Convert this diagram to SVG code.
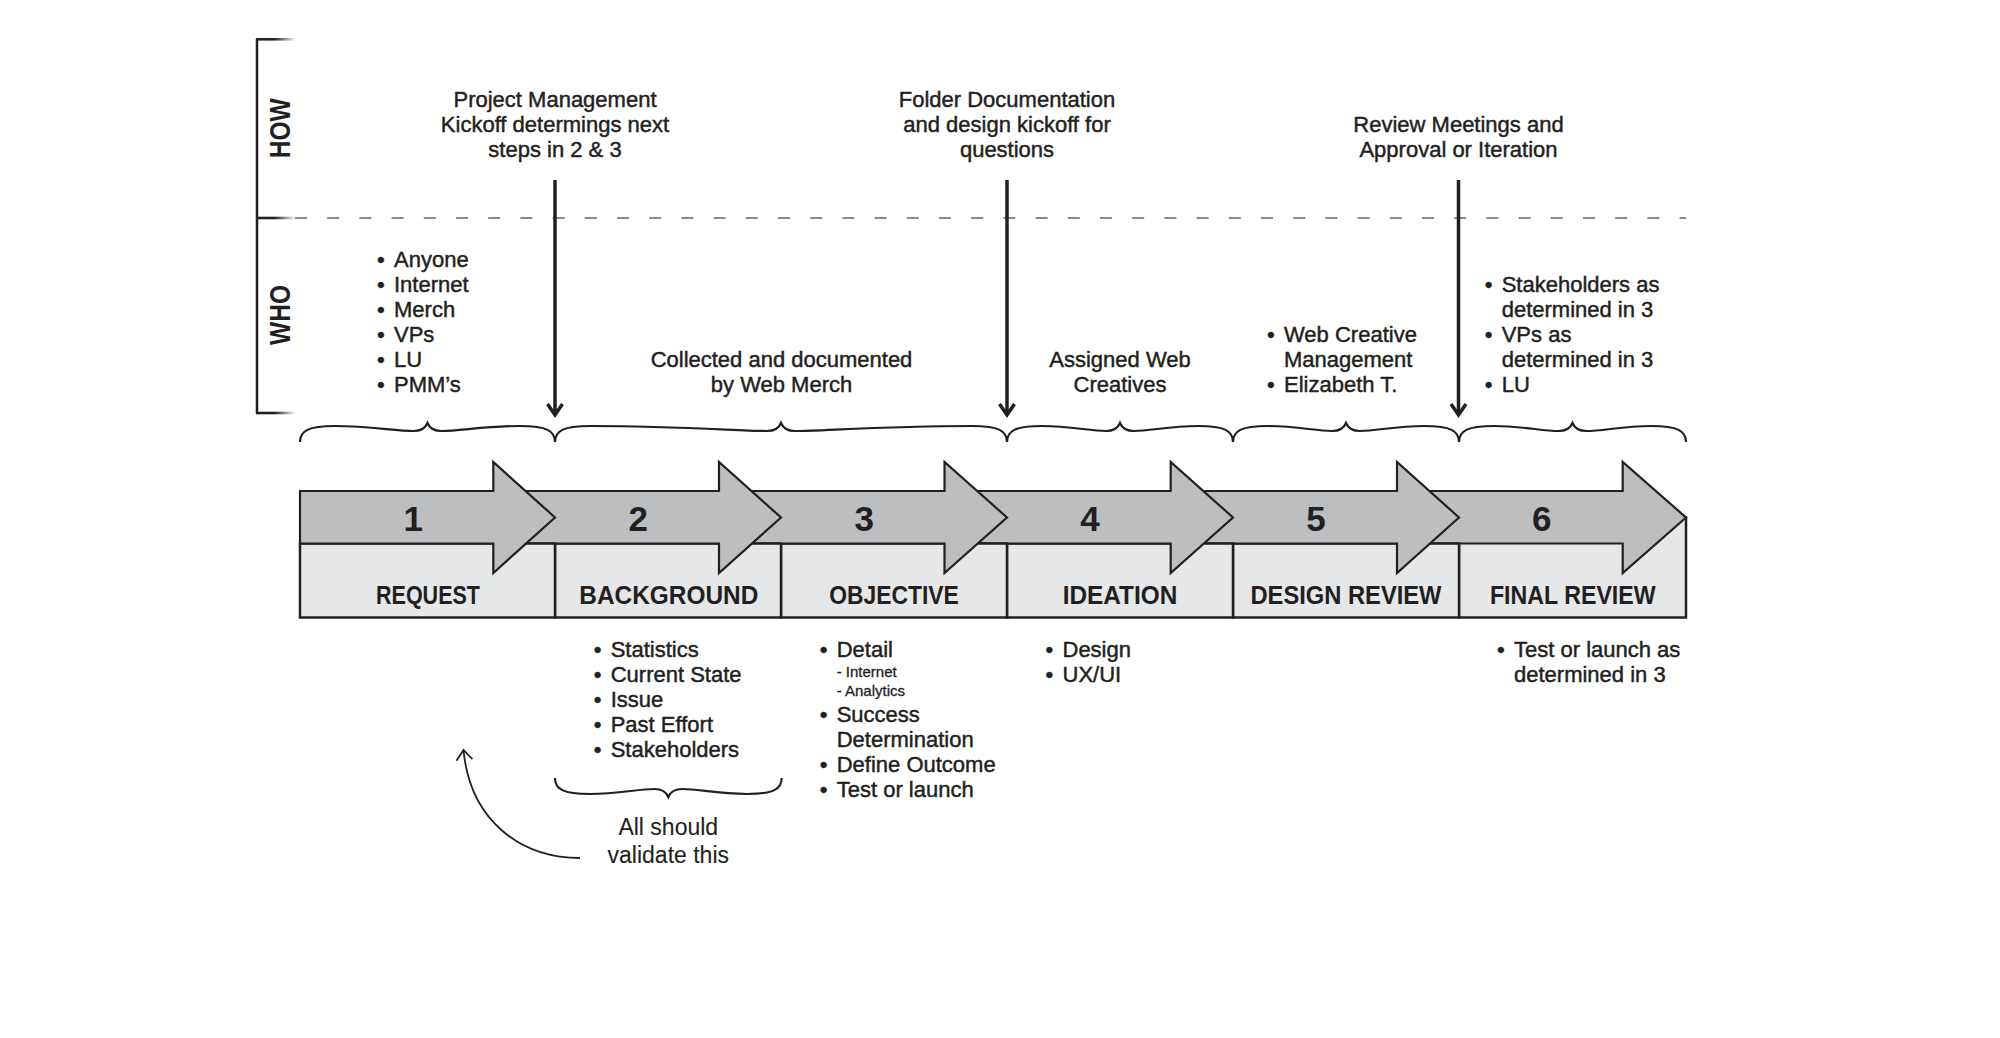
<svg xmlns="http://www.w3.org/2000/svg" width="2000" height="1038" viewBox="0 0 2000 1038">
<defs>
<style>
.t{font-family:"Liberation Sans",Arial,sans-serif;font-size:22px;fill:#231f20;stroke:#231f20;stroke-width:0.45}
.m{text-anchor:middle}
.s{font-size:15px;stroke-width:0.3}
.r{font-size:23px;stroke-width:0.1}
.h{font-family:"Liberation Sans",Arial,sans-serif;font-weight:bold;font-size:26px;text-anchor:middle;fill:#231f20}
.n{font-family:"Liberation Sans",Arial,sans-serif;font-weight:bold;font-size:35px;text-anchor:middle;fill:#231f20}
.v{font-family:"Liberation Sans",Arial,sans-serif;font-weight:bold;font-size:30px;text-anchor:middle;fill:#231f20}
.cell{fill:#e6e7e8;stroke:#231f20;stroke-width:2.5}
.chev{fill:#bcbec0;stroke:#231f20;stroke-width:2.2;stroke-linejoin:miter}
.brace{fill:none;stroke:#231f20;stroke-width:2.2}
.va{stroke:#231f20;stroke-width:3.5;fill:none}
.ca{stroke:#231f20;stroke-width:1.8;fill:none}
</style>
<linearGradient id="fade" x1="0" y1="0" x2="1" y2="0">
<stop offset="0" stop-color="#231f20"/>
<stop offset="0.45" stop-color="#231f20"/>
<stop offset="1" stop-color="#231f20" stop-opacity="0"/>
</linearGradient>
<marker id="ah" markerUnits="userSpaceOnUse" viewBox="-16 -12 20 24" markerWidth="20" markerHeight="24" refX="0" refY="0" orient="auto" overflow="visible">
<path d="M-11,-7.5 L0,0 L-11,7.5" fill="none" stroke="#231f20" stroke-width="3.5"/>
</marker>
<marker id="ah2" markerUnits="userSpaceOnUse" viewBox="-14 -10 18 20" markerWidth="18" markerHeight="20" refX="0" refY="0" orient="auto" overflow="visible">
<path d="M-10,-8 L0,0 L-10,8" fill="none" stroke="#231f20" stroke-width="1.8"/>
</marker>
</defs>
<rect width="2000" height="1038" fill="#ffffff"/>

<g id="axis">
<line x1="257" y1="39" x2="257" y2="414" stroke="#231f20" stroke-width="2.5"/>
<rect x="256" y="38" width="40" height="2.6" fill="url(#fade)"/>
<rect x="256" y="216.7" width="40" height="2.6" fill="url(#fade)"/>
<rect x="256" y="411.7" width="40" height="2.6" fill="url(#fade)"/>
<line x1="295" y1="218" x2="1686" y2="218" stroke="#8a8a8a" stroke-width="2" stroke-dasharray="12 20.2"/>
<text class="v" transform="translate(290,128.3) rotate(-90)" textLength="60" lengthAdjust="spacingAndGlyphs">HOW</text>
<text class="v" transform="translate(290,315) rotate(-90)" textLength="60" lengthAdjust="spacingAndGlyphs">WHO</text>
</g>

<g id="how-notes">
<text class="t m" x="555" y="106.7">Project Management</text>
<text class="t m" x="555" y="131.7">Kickoff determings next</text>
<text class="t m" x="555" y="156.7">steps in 2 &amp; 3</text>
<text class="t m" x="1007" y="106.7">Folder Documentation</text>
<text class="t m" x="1007" y="131.7">and design kickoff for</text>
<text class="t m" x="1007" y="156.7">questions</text>
<text class="t m" x="1458.5" y="132.2">Review Meetings and</text>
<text class="t m" x="1458.5" y="157.2">Approval or Iteration</text>
</g>

<g id="who-notes">
<text class="t" y="266.7"><tspan x="377">• </tspan><tspan x="394">Anyone</tspan></text>
<text class="t" y="291.7"><tspan x="377">• </tspan><tspan x="394">Internet</tspan></text>
<text class="t" y="316.7"><tspan x="377">• </tspan><tspan x="394">Merch</tspan></text>
<text class="t" y="341.7"><tspan x="377">• </tspan><tspan x="394">VPs</tspan></text>
<text class="t" y="366.7"><tspan x="377">• </tspan><tspan x="394">LU</tspan></text>
<text class="t" y="391.7"><tspan x="377">• </tspan><tspan x="394">PMM’s</tspan></text>
<text class="t m" x="781.5" y="367.2">Collected and documented</text>
<text class="t m" x="781.5" y="392.2">by Web Merch</text>
<text class="t m" x="1120" y="367.2">Assigned Web</text>
<text class="t m" x="1120" y="392.2">Creatives</text>
<text class="t" y="342.2"><tspan x="1267">• </tspan><tspan x="1284">Web Creative</tspan></text>
<text class="t" x="1284" y="367.2">Management</text>
<text class="t" y="392.2"><tspan x="1267">• </tspan><tspan x="1284">Elizabeth T.</tspan></text>
<text class="t" y="291.7"><tspan x="1484.7">• </tspan><tspan x="1501.7">Stakeholders as</tspan></text>
<text class="t" x="1501.7" y="316.7">determined in 3</text>
<text class="t" y="341.7"><tspan x="1484.7">• </tspan><tspan x="1501.7">VPs as</tspan></text>
<text class="t" x="1501.7" y="366.7">determined in 3</text>
<text class="t" y="391.7"><tspan x="1484.7">• </tspan><tspan x="1501.7">LU</tspan></text>
</g>

<g id="braces">
<path class="brace" d="M300,442 C300,431 308,426 335,426 C370,426 395,431 413.5,431 C421.5,431 425.5,428 427.5,423 C429.5,428 433.5,431 441.5,431 C460,431 485,426 520,426 C547,426 555,431 555,442"/>
<path class="brace" d="M555,442 C555,431 563,426 590,426 C680,426 740,431 767,431 C775,431 779,428 781,423 C783,428 787,431 795,431 C822,431 882,426 972,426 C999,426 1007,431 1007,442"/>
<path class="brace" d="M1007,442 C1007,431 1015,426 1042,426 C1070,426 1090,431 1106,431 C1114,431 1118,428 1120,423 C1122,428 1126,431 1134,431 C1150,431 1170,426 1198,426 C1225,426 1233,431 1233,442"/>
<path class="brace" d="M1233,442 C1233,431 1241,426 1268,426 C1296,426 1316,431 1332,431 C1340,431 1344,428 1346,423 C1348,428 1352,431 1360,431 C1376,431 1396,426 1424,426 C1451,426 1459,431 1459,442"/>
<path class="brace" d="M1459,442 C1459,431 1467,426 1494,426 C1522,426 1542,431 1558.5,431 C1566.5,431 1570.5,428 1572.5,423 C1574.5,428 1578.5,431 1586.5,431 C1603,431 1623,426 1651,426 C1678,426 1686,431 1686,442"/>
<path class="brace" d="M555,778 C555,789 563,794 590,794 C618,794 638,789 654.3,789 C662.3,789 666.3,792 668.3,797 C670.3,792 674.3,789 682.3,789 C698,789 718,794 746.7,794 C773.7,794 781.7,789 781.7,778"/>
</g>

<g id="step6">
<rect class="cell" x="1459" y="517.5" width="227" height="100"/>
<polygon class="chev" points="1403,491 1622.7,491 1622.7,462 1686,517.5 1622.7,573 1622.7,543.5 1403,543.5"/>
<text class="n" x="1541.7" y="531">6</text>
<text class="h" x="1572.8" y="604.3" textLength="165.7" lengthAdjust="spacingAndGlyphs">FINAL REVIEW</text>
</g>
<g id="step5">
<rect class="cell" x="1233" y="543.5" width="226" height="74"/>
<polygon class="chev" points="1177,491 1397,491 1397,462 1459,517.5 1397,573 1397,543.5 1177,543.5"/>
<text class="n" x="1316" y="531">5</text>
<text class="h" x="1346" y="604.3" textLength="191" lengthAdjust="spacingAndGlyphs">DESIGN REVIEW</text>
</g>
<g id="step4">
<rect class="cell" x="1007" y="543.5" width="226" height="74"/>
<polygon class="chev" points="951,491 1170.7,491 1170.7,462 1233,517.5 1170.7,573 1170.7,543.5 951,543.5"/>
<text class="n" x="1090" y="531">4</text>
<text class="h" x="1120" y="604.3" textLength="114.7" lengthAdjust="spacingAndGlyphs">IDEATION</text>
</g>
<g id="step3">
<rect class="cell" x="781" y="543.5" width="226" height="74"/>
<polygon class="chev" points="725,491 944.5,491 944.5,462 1007,517.5 944.5,573 944.5,543.5 725,543.5"/>
<text class="n" x="864.3" y="531">3</text>
<text class="h" x="894" y="604.3" textLength="129.7" lengthAdjust="spacingAndGlyphs">OBJECTIVE</text>
</g>
<g id="step2">
<rect class="cell" x="555" y="543.5" width="226" height="74"/>
<polygon class="chev" points="499,491 719,491 719,462 781,517.5 719,573 719,543.5 499,543.5"/>
<text class="n" x="638.3" y="531">2</text>
<text class="h" x="668.8" y="604.3" textLength="179" lengthAdjust="spacingAndGlyphs">BACKGROUND</text>
</g>
<g id="step1">
<rect class="cell" x="300" y="543.5" width="255" height="74"/>
<polygon class="chev" points="300,491 493.3,491 493.3,462 555,517.5 493.3,573 493.3,543.5 300,543.5"/>
<text class="n" x="413.3" y="531">1</text>
<text class="h" x="428" y="604.3" textLength="104" lengthAdjust="spacingAndGlyphs">REQUEST</text>
</g>

<g id="step-notes">
<text class="t" y="656.7"><tspan x="593.7">• </tspan><tspan x="610.7">Statistics</tspan></text>
<text class="t" y="681.7"><tspan x="593.7">• </tspan><tspan x="610.7">Current State</tspan></text>
<text class="t" y="706.7"><tspan x="593.7">• </tspan><tspan x="610.7">Issue</tspan></text>
<text class="t" y="731.7"><tspan x="593.7">• </tspan><tspan x="610.7">Past Effort</tspan></text>
<text class="t" y="756.7"><tspan x="593.7">• </tspan><tspan x="610.7">Stakeholders</tspan></text>
<text class="t" y="656.7"><tspan x="819.7">• </tspan><tspan x="836.7">Detail</tspan></text>
<text class="t s" x="836.7" y="676.5">- Internet</text>
<text class="t s" x="836.7" y="695.5">- Analytics</text>
<text class="t" y="721.7"><tspan x="819.7">• </tspan><tspan x="836.7">Success</tspan></text>
<text class="t" x="836.7" y="746.7">Determination</text>
<text class="t" y="771.7"><tspan x="819.7">• </tspan><tspan x="836.7">Define Outcome</tspan></text>
<text class="t" y="796.7"><tspan x="819.7">• </tspan><tspan x="836.7">Test or launch</tspan></text>
<text class="t" y="657.3"><tspan x="1045.5">• </tspan><tspan x="1062.5">Design</tspan></text>
<text class="t" y="682.3"><tspan x="1045.5">• </tspan><tspan x="1062.5">UX/UI</tspan></text>
<text class="t" y="657.3"><tspan x="1497">• </tspan><tspan x="1514">Test or launch as</tspan></text>
<text class="t" x="1514" y="682.3">determined in 3</text>
<text class="t r m" x="668.3" y="835">All should</text>
<text class="t r m" x="668.3" y="862.7">validate this</text>
</g>

<g id="connectors">
<line class="va" x1="555" y1="180" x2="555" y2="415" marker-end="url(#ah)"/>
<line class="va" x1="1007" y1="180" x2="1007" y2="415" marker-end="url(#ah)"/>
<line class="va" x1="1458.5" y1="180" x2="1458.5" y2="415" marker-end="url(#ah)"/>
<path class="ca" d="M580,858 C520,858 470,820 463.5,750" marker-end="url(#ah2)"/>
</g>
</svg>
